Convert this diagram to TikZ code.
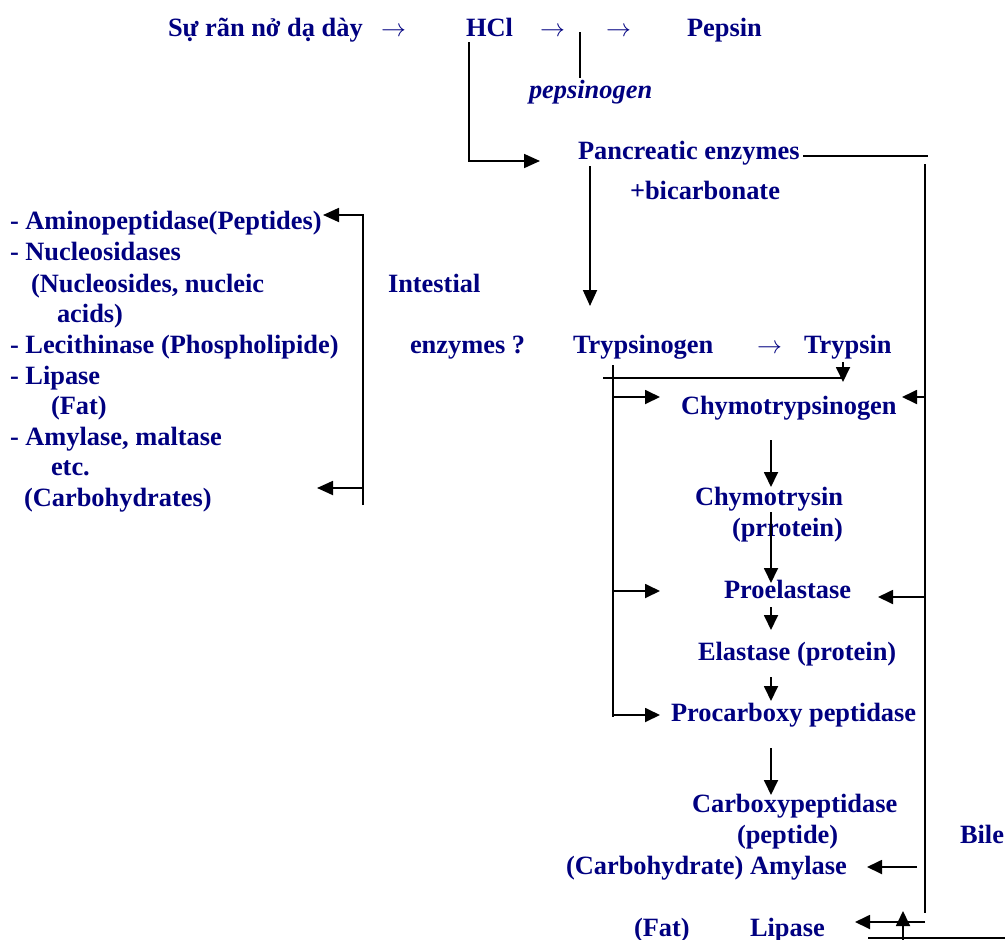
\documentclass[tikz,border=0pt]{standalone}
\usepackage{fontspec}
\setmainfont{Liberation Serif}
\usetikzlibrary{arrows.meta}
\definecolor{navy}{RGB}{0,0,128}
\tikzset{
  txt/.style={anchor=base west, inner sep=0pt, outer sep=0pt, text=navy,
    font=\fontsize{26.4}{30}\selectfont\bfseries},
  arrowtxt/.style={txt},
  ln/.style={line width=1.8pt, black},
  arr/.style={ln, -{Triangle[length=16pt,width=14pt]}},
  sarr/.style={ln, -{Triangle[length=15pt,width=14pt]}}
}
\begin{document}
\begin{tikzpicture}[x=1pt,y=-1pt]
\useasboundingbox (0,0) rectangle (1005,940);
% top row
\node[txt] (su) at (168,36) {Sự rãn nở dạ dày};
\node[arrowtxt] (ar1) at (381,36) {$\rightarrow$};
\node[txt] (hcl) at (466,36) {HCl};
\node[arrowtxt] (ar2) at (540,36) {$\rightarrow$};
\node[arrowtxt] (ar3) at (606,36) {$\rightarrow$};
\node[txt] (pepsin) at (687,36) {Pepsin};
\node[txt, font=\fontsize{26.4}{30}\selectfont\bfseries\itshape] (pepsinogen) at (529,98) {pepsinogen};
\node[txt] (panc) at (578,159) {Pancreatic enzymes};
\node[txt] (bicarb) at (630,199) {+bicarbonate};
\node[txt] (intestial) at (388,292) {Intestial};
\node[txt] (enzq) at (410,353) {enzymes ?};
\node[txt] (trypsinogen) at (573,353) {Trypsinogen};
\node[arrowtxt] (ar4) at (757,353) {$\rightarrow$};
\node[txt] (trypsin) at (804,353) {Trypsin};
% left list
\node[txt] (l1) at (10,229) {- Aminopeptidase(Peptides)};
\node[txt] (l2) at (10,260) {- Nucleosidases};
\node[txt] (l3) at (31,292) {(Nucleosides, nucleic};
\node[txt] (l4) at (57,322) {acids)};
\node[txt] (l5) at (10,353) {- Lecithinase (Phospholipide)};
\node[txt] (l6) at (10,384) {- Lipase};
\node[txt] (l7) at (51,414) {(Fat)};
\node[txt] (l8) at (10,445) {- Amylase, maltase};
\node[txt] (l9) at (51,475) {etc.};
\node[txt] (l10) at (24,506) {(Carbohydrates)};
% right column
\node[txt] (chymogen) at (681,414) {Chymotrypsinogen};
\node[txt] (chymo) at (695,505) {Chymotrysin};
\node[txt] (prrotein) at (732,536) {(prrotein)};
\node[txt] (proel) at (724,598) {Proelastase};
\node[txt] (elast) at (698,660) {Elastase (protein)};
\node[txt] (procarb) at (671,721) {Procarboxy peptidase};
\node[txt] (carb) at (692,812) {Carboxypeptidase};
\node[txt] (peptide) at (737,843) {(peptide)};
\node[txt] (bile) at (960,843) {Bile};
\node[txt] (amyl) at (566,874) {(Carbohydrate) Amylase};
\node[txt] (fat) at (634,936) {(Fat)};
\node[txt] (lipase) at (750,936) {Lipase};
% coordinates
\coordinate (tickT) at (580,32);
\coordinate (tickB) at (580,78);
\coordinate (hclT) at (469,42);
\coordinate (hclB) at (469,161);
\coordinate (pancIn) at (540,161);
\coordinate (pancR) at (803,156);
\coordinate (bileTR) at (928,156);
\coordinate (bileT) at (925,164);
\coordinate (bileB) at (925,913);
\coordinate (pancD) at (590,166);
\coordinate (tryIn) at (590,306);
\coordinate (brT) at (363,215);
\coordinate (brB) at (363,505);
\coordinate (brTtip) at (323,215);
\coordinate (brBs) at (363,488);
\coordinate (brBtip) at (317,488);
\coordinate (tgT) at (613,365);
\coordinate (tgB) at (613,717);
\coordinate (hL) at (603,378);
\coordinate (hR) at (843,378);
\coordinate (tsD) at (843,362);
\coordinate (tsTip) at (843,382);
\coordinate (b1s) at (613,397); \coordinate (b1e) at (660,397);
\coordinate (b2s) at (613,591); \coordinate (b2e) at (660,591);
\coordinate (b3s) at (613,715); \coordinate (b3e) at (660,715);
\coordinate (r1s) at (925,397); \coordinate (r1e) at (902,397);
\coordinate (r2s) at (925,597); \coordinate (r2e) at (878,597);
\coordinate (r3s) at (917,867); \coordinate (r3e) at (867,867);
\coordinate (r4s) at (925,922); \coordinate (r4e) at (855,922);
\coordinate (d1s) at (771,440); \coordinate (d1e) at (771,487);
\coordinate (d2s) at (771,512); \coordinate (d2e) at (771,583);
\coordinate (d3s) at (771,607); \coordinate (d3e) at (771,630);
\coordinate (d4s) at (771,677); \coordinate (d4e) at (771,701);
\coordinate (d5s) at (771,748); \coordinate (d5e) at (771,795);
\coordinate (upS) at (903,942); \coordinate (upE) at (903,911);
\coordinate (botL) at (868,938); \coordinate (botR) at (1005,938);
% connectors
\draw[ln] (tickT) -- (tickB);
\draw[arr] (hclT) -- (hclB) -- (pancIn);
\draw[ln] (pancR) -- (bileTR);
\draw[ln] (bileT) -- (bileB);
\draw[arr] (pancD) -- (tryIn);
\draw[arr] (brB) -- (brT) -- (brTtip);
\draw[arr] (brBs) -- (brBtip);
\draw[ln] (tgT) -- (tgB);
\draw[ln] (hL) -- (hR);
\draw[sarr] (tsD) -- (tsTip);
\draw[sarr] (b1s) -- (b1e);
\draw[sarr] (b2s) -- (b2e);
\draw[sarr] (b3s) -- (b3e);
\draw[sarr] (r1s) -- (r1e);
\draw[sarr] (r2s) -- (r2e);
\draw[sarr] (r3s) -- (r3e);
\draw[sarr] (r4s) -- (r4e);
\draw[sarr] (d1s) -- (d1e);
\draw[sarr] (d2s) -- (d2e);
\draw[sarr] (d3s) -- (d3e);
\draw[sarr] (d4s) -- (d4e);
\draw[sarr] (d5s) -- (d5e);
\draw[sarr] (upS) -- (upE);
\draw[ln] (botL) -- (botR);
\end{tikzpicture}
\end{document}
